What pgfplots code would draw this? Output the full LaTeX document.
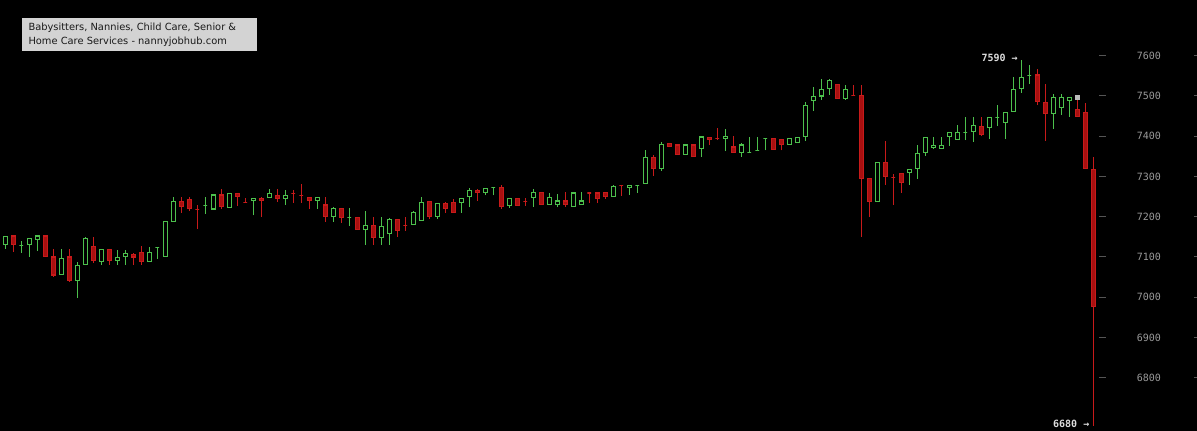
\documentclass[border=0pt]{standalone}
\usepackage{fontspec}
\setmainfont{DejaVu Sans}
\newfontfamily\monofont{DejaVu Sans Mono}
\usepackage{pgfplots}
\usepackage{pgfplotstable}
\pgfplotsset{compat=1.18}

\definecolor{cgreen}{HTML}{4CC04C}
\definecolor{credline}{HTML}{C81A1A}
\definecolor{cred}{HTML}{A81010}
\definecolor{tickgray}{HTML}{9A9A9A}
\definecolor{dashgray}{HTML}{555555}
\definecolor{boxgray}{HTML}{D3D3D3}
\definecolor{lblgray}{HTML}{DDDDDD}
\definecolor{sqgray}{HTML}{BBBBBB}

% pt per price unit (same as y= of the axis)
\newcommand\yu{0.30188}

% candle: point sits at (i, open); wick low..high, body open..close
\newcommand\drawcandle[2]{%
  \pgfmathsetmacro\candH{(\cH-\cO)*\yu}%
  \pgfmathsetmacro\candL{(\cL-\cO)*\yu}%
  \pgfmathsetmacro\candC{(\cC-\cO)*\yu}%
  \pgfsetcolor{#1}%
  \pgfsetlinewidth{0.75pt}%
  \pgfpathmoveto{\pgfpoint{0pt}{\candL pt}}%
  \pgfpathlineto{\pgfpoint{0pt}{\candH pt}}%
  \pgfusepath{stroke}%
  \pgfsetcolor{#2}%
  \pgfpathrectanglecorners{\pgfpoint{-1.4pt}{0pt}}{\pgfpoint{1.4pt}{\candC pt}}%
  \pgfusepath{fill}%
  \pgfsetcolor{#1}%
  \pgfsetlinewidth{0.85pt}%
  \pgfpathrectanglecorners{\pgfpoint{-1.4pt}{0pt}}{\pgfpoint{1.4pt}{\candC pt}}%
  \pgfusepath{stroke}%
}
\pgfdeclareplotmark{candleup}{\drawcandle{cgreen}{black}}
\pgfdeclareplotmark{candledown}{\drawcandle{credline}{cred}}

\pgfplotsset{candles/.style={
    only marks,
    visualization depends on={\thisrow{h} \as \cH},
    visualization depends on={\thisrow{l} \as \cL},
    visualization depends on={\thisrow{c} \as \cC},
    visualization depends on={\thisrow{o} \as \cO},
}}

% rising candles
\pgfplotstableread{
i o h l c
0 7130 7152 7120 7151
2 7129 7140 7111 7129
3 7131 7148 7101 7146
4 7144 7154 7116 7152
7 7056 7120 7056 7097
9 7042 7087 6999 7079
10 7082 7150 7082 7145
12 7088 7119 7080 7119
14 7091 7117 7080 7099
15 7101 7117 7080 7109
18 7088 7125 7088 7112
19 7123 7124 7095 7123
20 7101 7187 7101 7187
21 7188 7249 7188 7237
25 7227 7249 7207 7227
26 7219 7254 7217 7254
28 7222 7258 7222 7258
31 7240 7246 7203 7246
33 7247 7269 7247 7258
35 7245 7266 7230 7253
39 7240 7248 7220 7248
41 7200 7224 7188 7221
43 7198 7222 7177 7198
45 7168 7214 7130 7179
47 7148 7199 7130 7176
48 7158 7196 7130 7192
51 7180 7214 7180 7211
52 7190 7249 7190 7236
54 7200 7235 7194 7233
57 7235 7246 7210 7246
58 7250 7271 7223 7266
60 7260 7271 7253 7271
61 7273 7273 7253 7273
63 7228 7246 7222 7246
66 7248 7269 7225 7261
68 7231 7259 7231 7248
69 7231 7257 7223 7239
71 7226 7261 7226 7259
72 7231 7261 7231 7239
76 7250 7278 7250 7276
78 7272 7278 7254 7278
79 7278 7278 7260 7278
80 7283 7365 7283 7348
82 7319 7385 7314 7380
85 7354 7378 7354 7378
87 7369 7398 7349 7398
90 7394 7418 7363 7399
92 7359 7382 7349 7378
93 7360 7398 7360 7360
94 7365 7398 7365 7365
95 7394 7394 7365 7394
98 7379 7394 7379 7394
99 7384 7397 7384 7397
100 7399 7486 7389 7476
101 7488 7521 7463 7499
102 7500 7542 7490 7517
103 7518 7542 7503 7538
105 7493 7527 7490 7516
109 7237 7335 7237 7335
113 7309 7318 7279 7318
114 7319 7378 7294 7357
115 7359 7397 7351 7397
116 7371 7397 7368 7377
117 7369 7397 7369 7377
118 7399 7409 7376 7409
119 7391 7428 7391 7409
120 7409 7447 7390 7409
121 7411 7447 7386 7427
123 7421 7447 7393 7447
124 7447 7477 7425 7447
125 7433 7459 7393 7459
126 7461 7547 7461 7516
127 7518 7589 7508 7546
128 7550 7577 7530 7550
131 7457 7505 7419 7496
132 7472 7505 7453 7496
133 7488 7496 7448 7496
}\upcandles

% falling candles
\pgfplotstableread{
i o h l c
1 7152 7152 7113 7130
5 7152 7152 7101 7101
6 7100 7120 7050 7055
8 7100 7120 7038 7041
11 7125 7150 7086 7091
13 7119 7119 7080 7091
16 7107 7109 7080 7100
17 7110 7127 7080 7088
22 7237 7249 7210 7225
23 7242 7249 7215 7220
24 7218 7230 7170 7218
27 7254 7269 7219 7225
29 7258 7258 7227 7250
30 7236 7246 7236 7236
32 7246 7248 7200 7240
34 7253 7269 7237 7245
36 7257 7266 7235 7257
37 7252 7281 7235 7252
38 7248 7248 7220 7240
40 7229 7249 7188 7200
42 7221 7221 7185 7198
44 7197 7197 7167 7168
46 7179 7199 7130 7148
49 7192 7195 7150 7165
50 7179 7199 7165 7179
53 7237 7238 7194 7200
55 7233 7237 7209 7221
56 7236 7243 7210 7210
59 7266 7270 7240 7260
62 7273 7278 7219 7225
64 7246 7246 7228 7228
65 7237 7247 7227 7237
67 7261 7261 7230 7231
70 7239 7261 7225 7231
73 7259 7259 7235 7259
74 7259 7259 7234 7245
75 7261 7261 7245 7250
77 7277 7277 7252 7277
81 7348 7354 7302 7319
83 7381 7384 7374 7375
84 7378 7378 7354 7354
86 7378 7378 7349 7349
88 7396 7398 7379 7391
89 7394 7420 7390 7394
91 7373 7400 7359 7359
96 7394 7394 7366 7366
97 7392 7392 7365 7379
104 7529 7529 7493 7493
106 7501 7527 7501 7501
107 7501 7527 7150 7294
108 7295 7295 7200 7237
110 7335 7388 7279 7299
111 7298 7307 7230 7298
112 7308 7308 7260 7284
122 7424 7447 7400 7405
129 7552 7567 7477 7486
130 7484 7530 7389 7457
134 7467 7490 7448 7448
135 7458 7482 7319 7319
136 7318 7348 6681 6976
}\downcandles

\begin{document}
\begin{tikzpicture}
\fill[black] (0,0) rectangle (897.75pt,323.25pt);

\begin{axis}[
    at={(0,0)}, anchor=south west,
    x=6pt, y=0.30188pt,
    xmin=-0.6625, xmax=136.7,
    ymin=6667.6, ymax=7738.4,
    axis x line=none,
    axis y line*=right,
    axis line style={draw=none},
    ytick={6800,6900,...,7600},
    tick align=outside,
    major tick length=5.25pt,
    tick style={draw=dashgray, line width=0.75pt},
    /pgf/number format/assume math mode=true,
    /pgf/number format/1000 sep={},
    yticklabel style={font=\monofont\fontsize{7.5}{9}\selectfont, text=tickgray,
        anchor=west, inner sep=0pt, xshift=23pt},
    clip=false,
]

\addplot[candles, mark=candleup] table[x=i, y=o] {\upcandles};

\addplot[candles, mark=candledown] table[x=i, y=o] {\downcandles};

\addplot[only marks, mark=square*, mark size=1.6pt,
    mark options={draw=sqgray, fill=sqgray, line width=0.4pt}]
    coordinates {(134,7496)};

\node[anchor=east, inner sep=0pt, text=lblgray,
    font=\monofont\bfseries\fontsize{7.5}{9}\selectfont,
    xshift=-2.5pt, yshift=1.5pt] at (axis cs:127,7589) {7590 →};
\node[anchor=east, inner sep=0pt, text=lblgray,
    font=\monofont\bfseries\fontsize{7.5}{9}\selectfont,
    xshift=-2.8pt, yshift=1pt] at (axis cs:136,6681) {6680 →};
\end{axis}

% short dashes along the right edge
\begin{axis}[
    at={(0,0)}, anchor=south west,
    scale only axis, width=897.75pt, height=323.25pt,
    xmin=0, xmax=1,
    ymin=6667.6, ymax=7738.4,
    axis x line=none,
    axis y line*=right,
    axis line style={draw=none},
    ytick={6800,6900,...,7600},
    yticklabels={},
    yticklabel style={inner sep=0pt, outer sep=0pt},
    tick align=inside,
    major tick length=2.25pt,
    tick style={draw=dashgray, line width=0.75pt},
]
\end{axis}

\fill[boxgray] (16.5pt,285pt) rectangle (192.75pt,309.75pt);
\node[anchor=base west, inner sep=0pt, text=black!90,
    font=\fontsize{7.4}{9}\selectfont] at (21.2pt,300.2pt)
    {Babysitters, Nannies, Child Care, Senior \&};
\node[anchor=base west, inner sep=0pt, text=black!90,
    font=\fontsize{7.4}{9}\selectfont] at (21.2pt,289.5pt)
    {Home Care Services - nannyjobhub.com};

\pgfresetboundingbox
\useasboundingbox (0,0) rectangle (897.75pt,323.25pt);
\end{tikzpicture}
\end{document}
